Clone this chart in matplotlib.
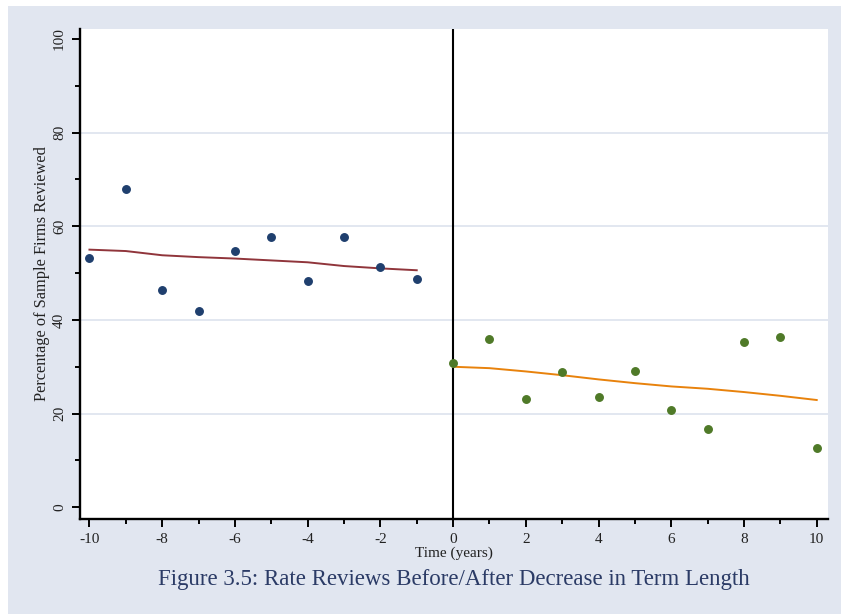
import numpy as np
import matplotlib
matplotlib.use("Agg")
import matplotlib.pyplot as plt
from matplotlib.patches import Rectangle
from matplotlib.ticker import MultipleLocator

# data
years_before = [-10, -9, -8, -7, -6, -5, -4, -3, -2, -1]
pct_before = [53.2, 68.0, 46.3, 41.9, 54.8, 57.6, 48.3, 57.6, 51.2, 48.8]
fit_before = [55.0, 54.7, 53.8, 53.4, 53.1, 52.7, 52.3, 51.5, 51.0, 50.6]

years_after = [0, 1, 2, 3, 4, 5, 6, 7, 8, 9, 10]
pct_after = [30.7, 35.9, 23.1, 28.9, 23.6, 29.1, 20.8, 16.7, 35.3, 36.4, 12.6]
fit_after = [30.0, 29.7, 29.0, 28.2, 27.3, 26.5, 25.8, 25.3, 24.6, 23.8, 22.9]

bg = "#e1e6f0"
grid_c = "#dde3ee"
navy = "#1f3f6e"
green = "#4f7a28"
maroon = "#90353b"
orange = "#e8820c"
title_c = "#2b3b66"

plt.rcParams['font.family'] = ['Liberation Serif', 'DejaVu Serif']

fig = plt.figure(figsize=(8.41, 6.14), dpi=100)
fig.patch.set_facecolor("white")
fig.patches.append(Rectangle((8 / 841, 0), 1 - 8 / 841, 1 - 6 / 614,
                             transform=fig.transFigure, facecolor=bg,
                             edgecolor="none", zorder=-10))

ax = fig.add_axes([80 / 841, 1 - 519 / 614, (828 - 80) / 841, (519 - 29) / 614])
ax.set_facecolor("white")

ax.set_xlim(-10.26, 10.31)
ax.set_ylim(-2.5, 102.1)

for g in [20, 40, 60, 80]:
    ax.axhline(g, color=grid_c, lw=1.2, zorder=1)
ax.axvline(0, color="black", lw=1.5, zorder=2)

ax.plot(years_before, fit_before, color=maroon, lw=1.4, zorder=3)
ax.plot(years_after, fit_after, color=orange, lw=1.4, zorder=3)
ax.plot(years_before, pct_before, 'o', color=navy, ms=5.4, mec=navy, zorder=4)
ax.plot(years_after, pct_after, 'o', color=green, ms=5.4, mec=green, zorder=4)

for s in ["top", "right"]:
    ax.spines[s].set_visible(False)
for s in ["left", "bottom"]:
    ax.spines[s].set_linewidth(1.7)
    ax.spines[s].set_color("black")

ax.set_xticks(range(-10, 11, 2))
ax.set_xticklabels([str(v) for v in range(-10, 11, 2)])
ax.xaxis.set_minor_locator(MultipleLocator(1))
ax.set_yticks(range(0, 101, 20))
ax.yaxis.set_minor_locator(MultipleLocator(10))
ax.tick_params(axis="both", which="major", length=6, width=1.4, labelsize=11,
               colors="black", labelcolor="#222222", pad=4)
ax.tick_params(axis="both", which="minor", length=3.5, width=1.4)
for lbl in ax.get_yticklabels():
    lbl.set_rotation(90)
    lbl.set_va("center")

ax.set_ylabel("Percentage of Sample Firms Reviewed", fontsize=11.8, color="#222222",
              labelpad=2)

fig.text(454 / 841, 1 - 553 / 614, "Time (years)", ha="center", va="center",
         fontsize=11, color="#222222")
fig.text(454 / 841, 1 - 580 / 614,
         "Figure 3.5: Rate Reviews Before/After Decrease in Term Length",
         ha="center", va="center", fontsize=16.5, color=title_c)

fig.savefig("out.png", dpi=100, facecolor=fig.get_facecolor())
